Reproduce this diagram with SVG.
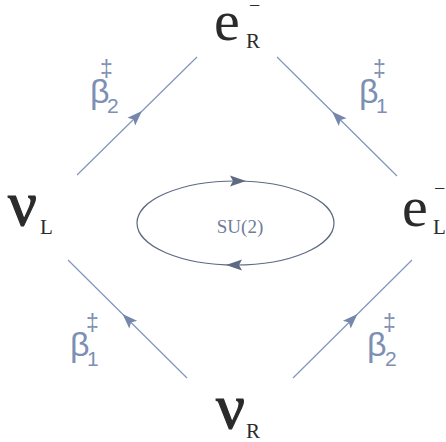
<svg xmlns="http://www.w3.org/2000/svg" width="446" height="442" viewBox="0 0 446 442">
<style>
.big{font-family:"Liberation Serif","Times New Roman",serif;font-size:58px;fill:#2b2b2b}
.nu{font-family:"Liberation Serif","Times New Roman",serif;font-size:64px;fill:#2b2b2b;stroke:#2b2b2b;stroke-width:1.2}
.sub{font-family:"Liberation Serif","Times New Roman",serif;font-size:21px;fill:#2b2b2b}
.sup{font-family:"Liberation Serif","Times New Roman",serif;font-size:20px;fill:#2b2b2b}
.beta{font-family:"Liberation Sans",Arial,sans-serif;font-size:34px;fill:#7d8fb3}
.bsub{font-family:"Liberation Sans",Arial,sans-serif;font-size:21px;fill:#7d8fb3}
.dag{font-family:"Liberation Sans",Arial,sans-serif;font-size:23px;fill:#7d8fb3}
.edge{stroke:#8295bb;stroke-width:1.2;fill:none}
.loop{stroke:#5e6a82;stroke-width:1.2;fill:none}
.su{font-family:"Liberation Serif","Times New Roman",serif;font-size:19px;fill:#6f7d99}
</style>
<defs>
<marker id="ah" markerUnits="userSpaceOnUse" markerWidth="30" markerHeight="30" orient="auto" overflow="visible" refX="0" refY="0">
<path d="M7,0 L-8,-5.5 L-5,0 L-8,5.5 Z" fill="#7587ad"/>
</marker>
</defs>
<rect width="446" height="442" fill="#ffffff"/>
<g id="connectors">
<path class="edge" d="M77,175 L137,116 L197,57" marker-mid="url(#ah)"/>
<path class="edge" d="M397,176 L337,116.5 L277,57" marker-mid="url(#ah)"/>
<path class="edge" d="M187,378 L127.5,319 L68,260" marker-mid="url(#ah)"/>
<path class="edge" d="M293,378 L352.5,319 L412,260" marker-mid="url(#ah)"/>
</g>
<g id="su2-loop">
<ellipse class="loop" cx="235.5" cy="223" rx="98.5" ry="42"/>
<path d="M246,181 L230,175.5 L233,181 L230,186.5 Z" fill="#5e6a82"/>
<path d="M226,265 L242,259.5 L239,265 L242,270.5 Z" fill="#5e6a82"/>
<text class="su" x="240" y="233" text-anchor="middle">SU(2)</text>
</g>
<g id="eR">
<text class="big" x="214" y="40">e</text>
<text class="sub" x="246" y="48">R</text>
<text class="sup" x="249" y="12">−</text>
</g>
<g id="nuL">
<text class="nu" x="8" y="225">ν</text>
<text class="sub" x="40" y="234">L</text>
</g>
<g id="eL">
<text class="big" x="402" y="226">e</text>
<text class="sub" x="433" y="234">L</text>
<text class="sup" x="434" y="195">−</text>
</g>
<g id="nuR">
<text class="nu" x="216" y="428">ν</text>
<text class="sub" x="246" y="438">R</text>
</g>
<g id="label-tl">
<text class="beta" x="90" y="103">β</text>
<text class="bsub" x="107" y="113">2</text>
<text class="dag" x="100" y="77">‡</text>
</g>
<g id="label-tr">
<text class="beta" x="359" y="103">β</text>
<text class="bsub" x="376" y="113">1</text>
<text class="dag" x="373" y="77">‡</text>
</g>
<g id="label-bl">
<text class="beta" x="70" y="356">β</text>
<text class="bsub" x="87" y="366">1</text>
<text class="dag" x="86" y="331">‡</text>
</g>
<g id="label-br">
<text class="beta" x="367" y="356">β</text>
<text class="bsub" x="385" y="366">2</text>
<text class="dag" x="383" y="331">‡</text>
</g>
</svg>
